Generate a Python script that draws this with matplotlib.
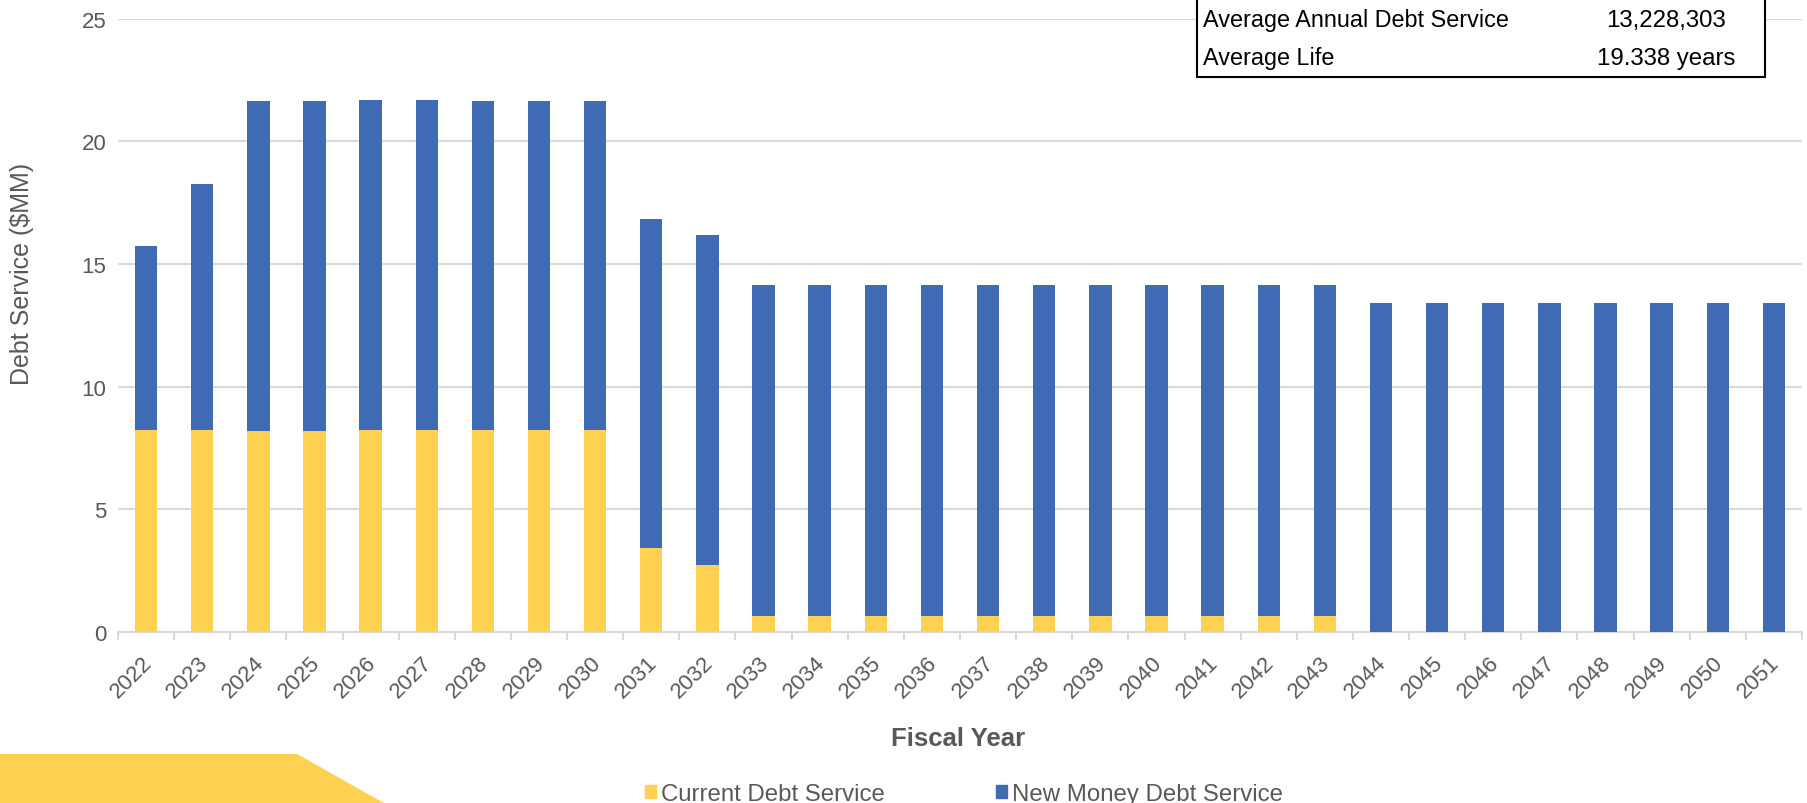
import matplotlib
matplotlib.use("Agg")
import matplotlib.pyplot as plt
import numpy as np
from matplotlib.patches import Rectangle, Polygon, Patch
from matplotlib.transforms import ScaledTranslation

plt.rcParams['font.family'] = ['Liberation Sans', 'DejaVu Sans']

# debt service by fiscal year ($MM)
years = [str(y) for y in range(2022, 2052)]
current_ds = [8.22, 8.22, 8.20, 8.21, 8.25, 8.24, 8.23, 8.23, 8.22, 3.42, 2.74] + [0.66] * 11 + [0.0] * 8
new_money_ds = [7.50, 10.03, 13.44, 13.43, 13.43, 13.43, 13.43, 13.43, 13.43, 13.43, 13.44] + [13.47] * 11 + [13.42] * 8

summary_labels = ["Average Annual Debt Service", "Average Life"]
summary_values = ["13,228,303", "19.338 years"]

yellow = '#FFD152'
blue = '#3E6BB3'
grid_c = '#D9D9D9'
text_c = '#595959'

W, H = 1808, 804
fig = plt.figure(figsize=(W / 100, H / 100), dpi=100)
ax = fig.add_axes([118 / W, 1 - 633 / H, (1802 - 118) / W, (633 - 19.6) / H])

x = np.arange(len(years))
ax.bar(x, current_ds, width=0.4, color=yellow, zorder=3)
ax.bar(x, new_money_ds, width=0.4, bottom=current_ds, color=blue, zorder=3)

ax.set_xlim(-0.5, len(years) - 0.5)
ax.set_ylim(0, 25)
ax.set_yticks([0, 5, 10, 15, 20, 25])
ax.yaxis.grid(True, color=grid_c, linewidth=1.5, zorder=0)
ax.set_axisbelow(True)
for s in ['top', 'right', 'left']:
    ax.spines[s].set_visible(False)
ax.spines['bottom'].set_color(grid_c)
ax.spines['bottom'].set_linewidth(1.5)

ax.set_xticks(x)
ax.set_xticklabels(years, rotation=45, ha='right', va='top', rotation_mode='anchor')
ax.set_xticks(np.arange(-0.5, len(years)), minor=True)
ax.tick_params(axis='x', which='major', length=0, pad=14, labelsize=16, labelcolor=text_c)
ax.tick_params(axis='x', which='minor', length=6, width=1.5, color=grid_c)
ax.tick_params(axis='y', length=0, pad=8.5, labelsize=16, labelcolor=text_c)
# nudge the slanted year labels a little to the left
shift = ScaledTranslation(-5 / 100, 0, fig.dpi_scale_trans)
for lbl in ax.get_xticklabels():
    lbl.set_transform(lbl.get_transform() + shift)

fig.text(22.5 / W, 1 - 274 / H, 'Debt Service ($MM)', rotation=90, ha='center', va='center',
         fontsize=18, color=text_c)
fig.text(958 / W, 1 - 739 / H, 'Fiscal Year', ha='center', va='center',
         fontsize=18.5, fontweight='bold', color=text_c)

# legend along the bottom edge
handles = [Patch(color=yellow), Patch(color=blue)]
fig.legend(handles, ['Current Debt Service', 'New Money Debt Service'], ncol=2,
           loc='center', bbox_to_anchor=(964 / W, 1 - 795 / H), frameon=False,
           fontsize=17.3, labelcolor=text_c, handlelength=0.48, handleheight=0.48,
           handletextpad=0.2, columnspacing=4.6, borderpad=0)

# yellow accent in the bottom-left corner
corner = [(0, 755), (297, 755), (384, 804), (0, 804)]
fig.add_artist(Polygon([(px / W, 1 - py / H) for px, py in corner], closed=True,
                       facecolor=yellow, edgecolor='none', transform=fig.transFigure))

# summary box, top right
fig.add_artist(Rectangle((1197 / W, 1 - 78 / H), (1765 - 1197) / W, 90 / H,
                         facecolor='white', edgecolor='black', linewidth=1.5,
                         transform=fig.transFigure, zorder=5))
rows_y = [21, 59]
value_right = [1726, 1735]
for lab, val, py, vx in zip(summary_labels, summary_values, rows_y, value_right):
    fig.text(1203 / W, 1 - py / H, lab, ha='left', va='center', fontsize=16.8,
             color='black', zorder=6)
    fig.text(vx / W, 1 - py / H, val, ha='right', va='center', fontsize=17.3,
             color='black', zorder=6)

fig.savefig('out.png', dpi=100)
